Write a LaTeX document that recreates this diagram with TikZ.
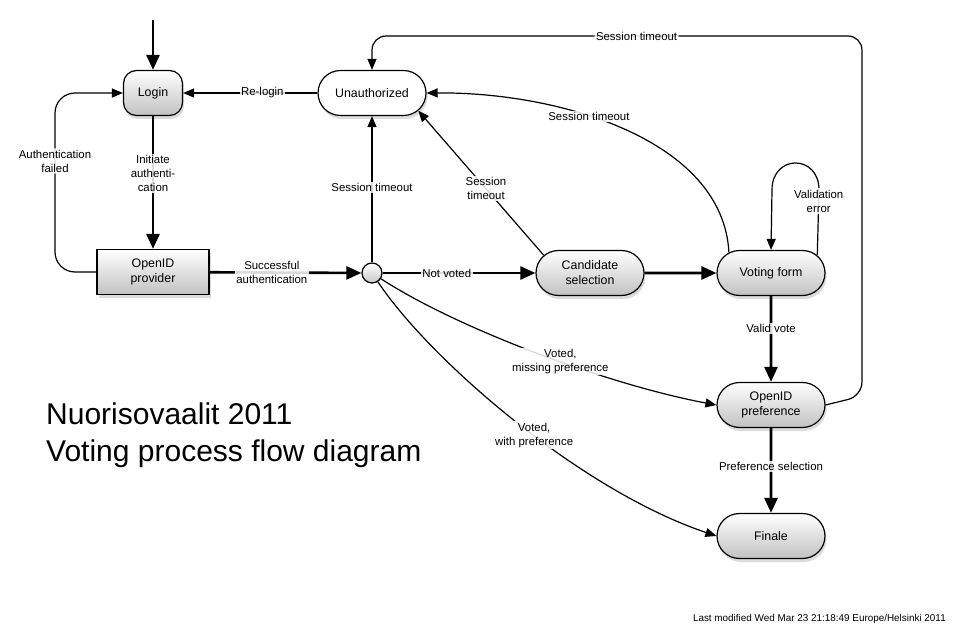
\documentclass[tikz,border=0pt]{standalone}
\usepackage{fontspec}
\setmainfont{Liberation Sans}
\usetikzlibrary{arrows.meta,shapes.misc,shadows}
\tikzset{
  base/.style={draw=black, line width=1.2pt, font=\fontsize{12.4}{15}\selectfont, align=center,
    minimum height=45pt, inner sep=2pt, top color=white, bottom color=black!24,
    drop shadow={shadow xshift=1.5pt, shadow yshift=-3.5pt, opacity=0.28}},
  pill/.style={base, rounded rectangle, minimum width=112pt},
  rbox/.style={base, rectangle, rounded corners=13pt, minimum width=59pt},
  sbox/.style={base, rectangle, minimum width=112pt},
  junction/.style={draw=black, line width=1.2pt, circle, minimum size=20pt, inner sep=0pt,
    top color=white, bottom color=black!22},
  thickarrow/.style={line width=2.6pt, -{Triangle[length=15pt,width=13pt]}},
  thinarrow/.style={line width=1.2pt, -{Triangle[length=11pt,width=9pt]}},
  lbl/.style={font=\fontsize{11.4}{14}\selectfont, fill=white, fill opacity=0.85, text opacity=1,
    inner sep=1.5pt, align=center},
  title/.style={font=\fontsize{30}{34}\selectfont, anchor=base west, inner sep=0pt},
  footer/.style={font=\fontsize{9.9}{12}\selectfont, anchor=base east, inner sep=0pt}
}
\begin{document}
\begin{tikzpicture}[x=1pt, y=-1pt]
\useasboundingbox (0,0) rectangle (966,636);

% nodes
\node[rbox] (login) at (153,93) {Login};
\node[pill, top color=white, bottom color=white] (unauth) at (372,93) {Unauthorized};
\node[sbox] (oidp) at (153,272) {OpenID\\provider};
\node[junction] (junc) at (372,273) {};
\node[pill] (cand) at (590,273) {Candidate\\selection};
\node[pill] (vote) at (771,273) {Voting form};
\node[pill] (pref) at (771,405) {OpenID\\preference};
\node[pill] (fin) at (771,536) {Finale};
\coordinate (entry) at (153,20);

% thick connectors
\draw[thickarrow] (entry) -- (login);
\draw[thickarrow] (login) -- node[lbl, pos=0.43] {Initiate\\authenti-\\cation} (oidp);
\draw[thickarrow] (oidp) -- node[lbl, pos=0.41] {Successful\\authentication} (junc);
\draw[thickarrow] (junc) -- node[lbl, pos=0.42] {Not voted} (cand);
\draw[thickarrow] (cand) -- (vote);
\draw[thickarrow] (vote) -- node[lbl, pos=0.38] {Valid vote} (pref);
\draw[thickarrow] (pref) -- node[lbl, pos=0.45] {Preference selection} (fin);

% thin connectors
\draw[thinarrow] (unauth) -- node[lbl, pos=0.41] {Re-login} (login);
\draw[thinarrow, rounded corners=20pt] (oidp.west) -- (55,272) -- node[lbl, pos=0.62] {Authentication\\failed} (55,93) -- (login.west);
\draw[thinarrow] (junc) -- node[lbl, pos=0.51] {Session timeout} (unauth);
\draw[thinarrow] (cand.159) -- node[lbl, pos=0.46] {Session\\timeout} (unauth.-21);
\draw[thinarrow] (vote.154) .. controls (723,140) and (560,92) .. node[lbl, pos=0.6] {Session timeout} (unauth.east);
\draw[thinarrow] (vote.21) -- node[lbl, pos=0.83] {Validation\\error} (819,190) .. controls (819,154) and (772,154) .. (772,190) -- (vote.north);
\draw[thinarrow, rounded corners=14pt] (pref.east) -- (862,396) -- (862,36) -- node[lbl, pos=0.46] {Session timeout} (372,36) -- (unauth.north);
\draw[thinarrow] (junc) .. controls (460,330) and (610,385) .. node[lbl, pos=0.56] {Voted,\\missing preference} (pref.west);
\draw[thinarrow] (junc) .. controls (430,360) and (580,490) .. node[lbl, pos=0.55] {Voted,\\with preference} (fin.west);

% texts
\node[title] (t1) at (46,424) {Nuorisovaalit 2011};
\node[title] (t2) at (46,461) {Voting process flow diagram};
\node[footer] (foot) at (946,621) {Last modified Wed Mar 23 21:18:49 Europe/Helsinki 2011};
\end{tikzpicture}
\end{document}
